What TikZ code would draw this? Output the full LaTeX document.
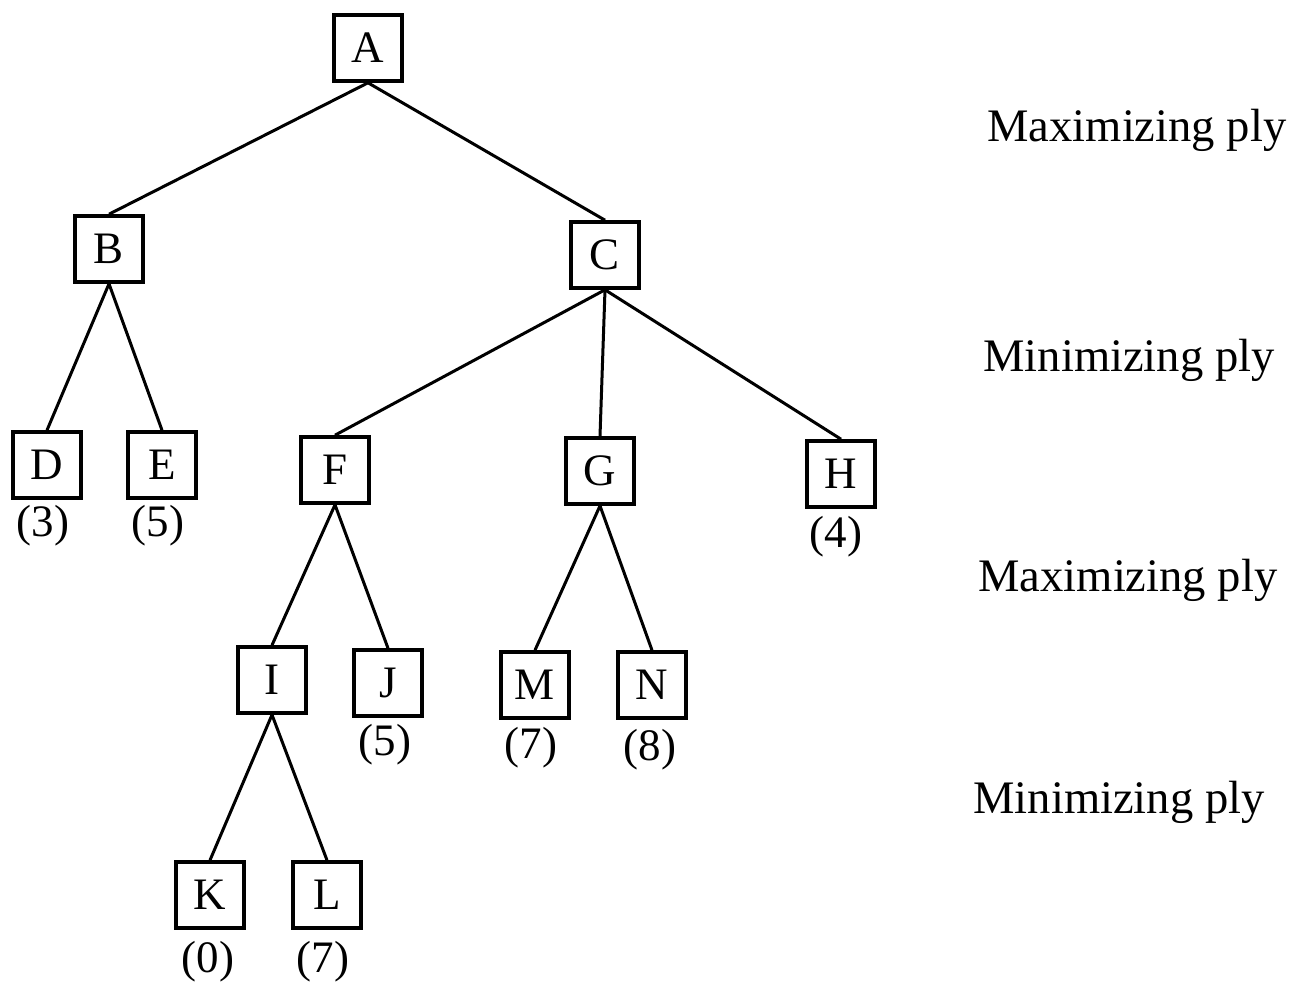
\documentclass[tikz,border=0pt]{standalone}
\usepackage{fontspec}
\setmainfont{Liberation Serif}
\begin{document}
\begin{tikzpicture}[x=0.5pt,y=-0.5pt,
  box/.style={draw,line width=1.8pt,minimum width=34pt,minimum height=33pt,inner sep=0pt,font=\fontsize{22.5}{26}\selectfont},
  val/.style={inner sep=0pt,font=\fontsize{22.5}{26}\selectfont},
  ply/.style={inner sep=0pt,anchor=west,font=\fontsize{23.3}{27}\selectfont},
  edge/.style={line width=1.5pt}]
\useasboundingbox (0,0) rectangle (1303,988);
\node[box] (A) at (368,48) {A};
\node[box] (B) at (109,249) {B};
\node[box] (C) at (605,255) {C};
\node[box] (D) at (47,465) {D};
\node[box] (E) at (162,465) {E};
\node[box] (F) at (335,470) {F};
\node[box] (G) at (600,471) {G};
\node[box] (H) at (841,474) {H};
\node[box] (I) at (272,680) {I};
\node[box] (J) at (388,683) {J};
\node[box] (M) at (535,685) {M};
\node[box] (N) at (652,685) {N};
\node[box] (K) at (210,895) {K};
\node[box] (L) at (327,895) {L};
\node[val] (vD) at (43,526) {(3)};
\node[val] (vE) at (158,526) {(5)};
\node[val] (vH) at (836,537) {(4)};
\node[val] (vJ) at (385,745) {(5)};
\node[val] (vM) at (531,748) {(7)};
\node[val] (vN) at (650,750) {(8)};
\node[val] (vK) at (208,962) {(0)};
\node[val] (vL) at (323,962) {(7)};
\node[ply] (p1) at (987,130) {Maximizing ply};
\node[ply] (p2) at (983,360) {Minimizing ply};
\node[ply] (p3) at (978,580) {Maximizing ply};
\node[ply] (p4) at (973,802) {Minimizing ply};
\draw[edge] (A.south) -- (B.north);
\draw[edge] (A.south) -- (C.north);
\draw[edge] (B.south) -- (D.north);
\draw[edge] (B.south) -- (E.north);
\draw[edge] (C.south) -- (F.north);
\draw[edge] (C.south) -- (G.north);
\draw[edge] (C.south) -- (H.north);
\draw[edge] (F.south) -- (I.north);
\draw[edge] (F.south) -- (J.north);
\draw[edge] (G.south) -- (M.north);
\draw[edge] (G.south) -- (N.north);
\draw[edge] (I.south) -- (K.north);
\draw[edge] (I.south) -- (L.north);
\end{tikzpicture}
\end{document}
